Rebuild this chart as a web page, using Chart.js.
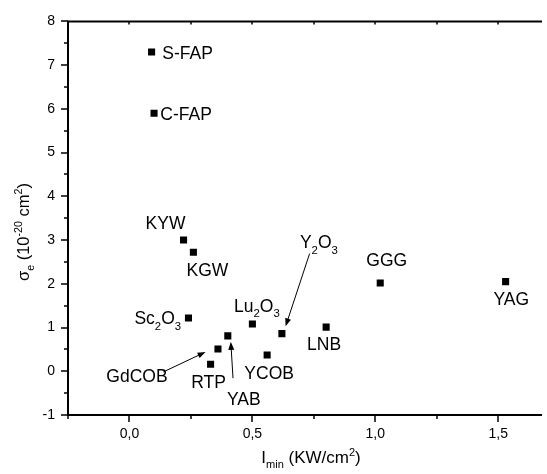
<!DOCTYPE html>
<html>
<head>
<meta charset="utf-8">
<script src="https://cdn.jsdelivr.net/npm/chart.js@4.4.0/dist/chart.umd.min.js"></script>
<style>
  html, body { margin: 0; padding: 0; background: #fff; }
  #graphic { display: block; }
</style>
</head>
<body>
<canvas id="graphic" width="547" height="474"></canvas>
<script>
// crystals: pump intensity I_min (KW/cm2) vs emission cross-section (10^-20 cm2)
const names = ['S-FAP', 'C-FAP', 'KYW', 'KGW', 'Sc_2O_3', 'GdCOB', 'RTP', 'YAB', 'Lu_2O_3', 'YCOB', 'Y_2O_3', 'LNB', 'GGG', 'YAG'];
const iMin  = [0.09, 0.10, 0.22, 0.26, 0.24, 0.36, 0.33, 0.40, 0.50, 0.56, 0.62, 0.80, 1.02, 1.53];
const sigma = [7.30, 5.90, 3.00, 2.72, 1.22, 0.51, 0.16, 0.81, 1.08, 0.37, 0.86, 1.01, 2.02, 2.05];

const xMajor  = [0, 0.5, 1.0, 1.5];
const xLabels = ['0,0', '0,5', '1,0', '1,5'];
const xMinor  = [-0.25, 0.25, 0.75, 1.25];
const yMajor  = [-1, 0, 1, 2, 3, 4, 5, 6, 7, 8];
const yLabels = ['-1', '0', '1', '2', '3', '4', '5', '6', '7', '8'];
const yMinor  = yMajor.slice(0, -1).map(v => v + 0.5);

// label placement (px offsets from the marker), kept apart from the data
const labelOffsets = [[36, 1], [32, 0.7], [-18, -17], [14, 17], [-30.7, 0.3], [-81, 26.6], [-2, 17.4],
                      [16, 62.6], [4.5, -18.7], [2, 18], [37, -91.6], [-2, 16.6], [6.5, -23], [5.7, 16.7]];
const arrows = [
    { i: 10, from: [27.7, -80], to: [3.7, -7.3] },
    { i: 5,  from: [-54.7, 23], to: [-12.4, 3] },
    { i: 7,  from: [5.2, 42.3], to: [3, 6] }
];

const FONT = '"Liberation Sans", Arial, sans-serif';

const parseRich = (s) => {
    const parts = [];
    let buf = '', i = 0;
    while (i < s.length) {
        const c = s[i];
        if (c === '_' || c === '^') {
            if (buf) { parts.push({ t: buf, mode: 0 }); buf = ''; }
            let t;
            if (s[i + 1] === '{') { const j = s.indexOf('}', i + 2); t = s.slice(i + 2, j); i = j + 1; }
            else { t = s[i + 1]; i += 2; }
            parts.push({ t: t, mode: c === '_' ? 1 : -1 });
        } else { buf += c; i++; }
    }
    if (buf) parts.push({ t: buf, mode: 0 });
    return parts;
};

const drawRich = (ctx, text, x, y, size, align) => {
    const parts = parseRich(text);
    const small = size * 0.65;
    let w = 0;
    parts.forEach(p => {
        ctx.font = (p.mode ? small : size) + 'px ' + FONT;
        p.w = ctx.measureText(p.t).width;
        w += p.w;
    });
    let cx = align === 'center' ? x - w / 2 : align === 'right' ? x - w : x;
    ctx.textAlign = 'left';
    ctx.textBaseline = 'alphabetic';
    parts.forEach(p => {
        ctx.font = (p.mode ? small : size) + 'px ' + FONT;
        const dy = p.mode === 1 ? size * 0.3 : p.mode === -1 ? -size * 0.42 : 0;
        ctx.fillText(p.t, cx, y + dy);
        cx += p.w;
    });
};

const decor = {
    id: 'decor',
    afterDraw(chart) {
        const ctx = chart.ctx;
        const a = chart.chartArea;
        const sx = chart.scales.x, sy = chart.scales.y;
        ctx.save();
        ctx.strokeStyle = '#000';
        ctx.fillStyle = '#000';

        // axis frame (left, bottom, top)
        ctx.lineWidth = 2;
        ctx.beginPath();
        ctx.moveTo(a.left, a.top); ctx.lineTo(a.left, a.bottom + 1);
        ctx.moveTo(a.left - 1, a.bottom); ctx.lineTo(a.right, a.bottom);
        ctx.moveTo(a.left - 1, a.top); ctx.lineTo(a.right, a.top);
        ctx.stroke();

        // tick marks
        ctx.lineWidth = 1.5;
        ctx.beginPath();
        xMajor.concat(xMinor).forEach(v => {
            const px = Math.round(sx.getPixelForValue(v));
            const len = xMajor.includes(v) ? 7 : 4;
            ctx.moveTo(px, a.bottom); ctx.lineTo(px, a.bottom + len);
            ctx.moveTo(px, a.top); ctx.lineTo(px, a.top + 3);
        });
        yMajor.concat(yMinor).forEach(v => {
            const py = Math.round(sy.getPixelForValue(v));
            const len = yMajor.includes(v) ? 7 : 4;
            ctx.moveTo(a.left, py); ctx.lineTo(a.left - len, py);
        });
        ctx.stroke();

        // point labels
        const meta = chart.getDatasetMeta(0);
        const size = 17.5;
        meta.data.forEach((pt, i) => {
            const [dx, dy] = labelOffsets[i];
            drawRich(ctx, names[i], pt.x + dx, pt.y + dy + size * 0.358, size, 'center');
        });

        // arrows
        ctx.lineWidth = 1;
        arrows.forEach(ar => {
            const pt = meta.data[ar.i];
            const x0 = pt.x + ar.from[0], y0 = pt.y + ar.from[1];
            const x1 = pt.x + ar.to[0], y1 = pt.y + ar.to[1];
            const ang = Math.atan2(y1 - y0, x1 - x0);
            ctx.beginPath();
            ctx.moveTo(x0, y0); ctx.lineTo(x1 - 6 * Math.cos(ang), y1 - 6 * Math.sin(ang));
            ctx.stroke();
            ctx.beginPath();
            ctx.moveTo(x1, y1);
            ctx.lineTo(x1 - 8 * Math.cos(ang) + 3 * Math.sin(ang), y1 - 8 * Math.sin(ang) - 3 * Math.cos(ang));
            ctx.lineTo(x1 - 8 * Math.cos(ang) - 3 * Math.sin(ang), y1 - 8 * Math.sin(ang) + 3 * Math.cos(ang));
            ctx.closePath();
            ctx.fill();
        });

        // axis titles
        drawRich(ctx, 'I_{min} (KW/cm^2)', 311, 463, 17, 'center');
        ctx.translate(29, 232);
        ctx.rotate(-Math.PI / 2);
        drawRich(ctx, 'σ_e (10^{-20} cm^2)', 0, 0, 16.5, 'center');
        ctx.restore();
    }
};

const ctx = document.getElementById('graphic');

const grafico = new Chart(ctx, {
    type: 'scatter',
    data: {
        datasets: [{
            data: iMin.map((x, i) => ({ x: x, y: sigma[i] })),
            pointStyle: 'rect',
            pointRadius: 5,
            pointBorderWidth: 0,
            backgroundColor: '#000',
            borderColor: '#000'
        }]
    },
    options: {
        responsive: false,
        devicePixelRatio: 1,
        animation: false,
        layout: { padding: { top: 20, right: 0, left: 0, bottom: 0 } },
        plugins: { legend: { display: false }, tooltip: { enabled: false } },
        scales: {
            x: {
                type: 'linear',
                min: -0.25,
                max: 1.678,
                grid: { display: false, drawTicks: false },
                border: { display: false },
                afterBuildTicks: s => { s.ticks = xMajor.concat(xMinor).sort((p, q) => p - q).map(v => ({ value: v })); },
                afterFit: s => { s.height = 59; },
                ticks: {
                    autoSkip: false,
                    maxRotation: 0,
                    padding: 11,
                    color: '#000',
                    font: { family: FONT, size: 14 },
                    callback: v => { const k = xMajor.indexOf(v); return k >= 0 ? xLabels[k] : ''; }
                }
            },
            y: {
                type: 'linear',
                min: -1,
                max: 8,
                grid: { display: false, drawTicks: false },
                border: { display: false },
                afterBuildTicks: s => { s.ticks = yMajor.concat(yMinor).sort((p, q) => p - q).map(v => ({ value: v })); },
                afterFit: s => { s.width = 68; },
                ticks: {
                    autoSkip: false,
                    padding: 13,
                    color: '#000',
                    font: { family: FONT, size: 14 },
                    callback: v => { const k = yMajor.indexOf(v); return k >= 0 ? yLabels[k] : ''; }
                }
            }
        }
    },
    plugins: [decor]
});
</script>
</body>
</html>
